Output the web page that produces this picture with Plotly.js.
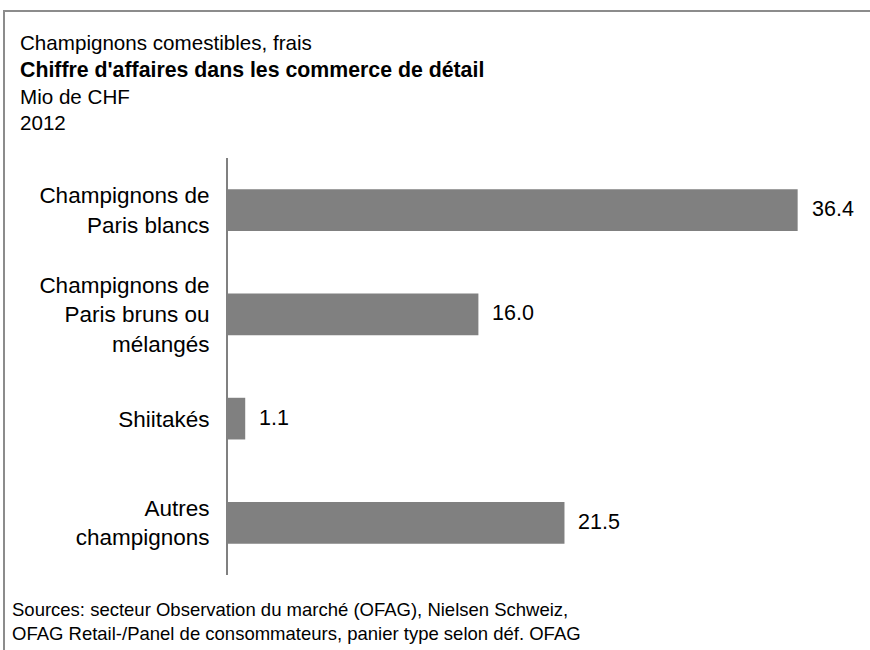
<!DOCTYPE html>
<html>
<head>
<meta charset="utf-8">
<script src="https://cdn.plot.ly/plotly-3.0.1.min.js"></script>
<style>
  html, body { margin: 0; padding: 0; background: #ffffff; }
  #wrap { position: relative; width: 870px; height: 650px; overflow: hidden; }
  #chart { position: absolute; left: 0; top: 0; width: 870px; height: 650px; }
  #frame { position: absolute; left: 3px; top: 10px; width: 900px; height: 700px;
           border: 2px solid #8c8c8c; box-sizing: border-box; pointer-events: none; }
</style>
</head>
<body>
<div id="wrap">
  <div id="chart"></div>
  <div id="frame"></div>
</div>
<script>
const categories = [
  "Champignons de<br>Paris blancs",
  "Champignons de<br>Paris bruns ou<br>mélangés",
  "Shiitakés",
  "Autres<br>champignons"
];
const values = [36.4, 16.0, 1.1, 21.5];
const valueLabels = ["36.4", "16.0", "1.1", "21.5"];
const titleLines = [
  "Champignons comestibles, frais",
  "<b><span style=\"font-size:21.3px\">Chiffre d'affaires dans les commerce de détail</span></b>",
  "Mio de CHF",
  "2012"
];
const sourceLines = [
  "Sources: secteur Observation du marché (OFAG), Nielsen Schweiz,",
  "OFAG Retail-/Panel de consommateurs, panier type selon déf. OFAG"
];

const W = 870, H = 650;
const mL = 228, mR = 16, mT = 158, mB = 75;
const pw = W - mL - mR, ph = H - mT - mB;
const px2x = (px) => (px - mL) / pw;
const py2y = (py) => (H - mB - py) / ph;

const FONT = "Liberation Sans, Arial, Helvetica, sans-serif";

const trace = {
  type: "bar",
  orientation: "h",
  x: values,
  y: categories,
  marker: { color: "rgb(128,128,128)", line: { width: 0 } },
  hoverinfo: "none"
};

const annotations = values.map((v, i) => ({
  x: v, y: categories[i], xref: "x", yref: "y",
  text: valueLabels[i], showarrow: false,
  xanchor: "left", yanchor: "middle", xshift: 12, yshift: 1,
  font: { family: FONT, size: 21.5, color: "#000000" }
}));

annotations.push({
  xref: "paper", yref: "paper",
  x: px2x(18), y: py2y(29),
  xanchor: "left", yanchor: "top", align: "left",
  text: titleLines.join("<br>"), showarrow: false,
  font: { family: FONT, size: 20.6, color: "#000000" }
});

annotations.push({
  xref: "paper", yref: "paper",
  x: px2x(10), y: py2y(597),
  xanchor: "left", yanchor: "top", align: "left",
  text: sourceLines.join("<br>"), showarrow: false,
  font: { family: FONT, size: 18.5, color: "#000000" }
});

const layout = {
  width: W, height: H,
  margin: { l: mL, r: mR, t: mT, b: mB, pad: 0 },
  paper_bgcolor: "rgba(0,0,0,0)",
  plot_bgcolor: "rgba(0,0,0,0)",
  showlegend: false,
  bargap: 0.6,
  xaxis: {
    range: [0, 40], visible: false, showgrid: false, zeroline: false, fixedrange: true
  },
  yaxis: {
    type: "category", autorange: "reversed",
    showline: true, linecolor: "#808080", linewidth: 2,
    showgrid: false, zeroline: false, ticks: "",
    ticklabelstandoff: 12,
    tickfont: { family: FONT, size: 22.5, color: "#000000" },
    fixedrange: true
  },
  annotations: annotations
};

Plotly.newPlot("chart", [trace], layout, { displayModeBar: false, staticPlot: true });
</script>
</body>
</html>
